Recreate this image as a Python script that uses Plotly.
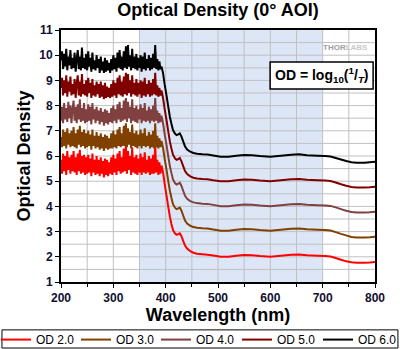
import plotly.graph_objects as go

wl_noise = [200, 202, 204, 206, 208, 210, 212, 214, 216, 218, 220, 222,
            224, 226, 228, 230, 232, 234, 236, 238, 240, 242, 244, 246,
            248, 250, 252, 254, 256, 258, 260, 262, 264, 266, 268, 270,
            272, 274, 276, 278, 280, 282, 284, 286, 288, 290, 292, 294,
            296, 298, 300, 302, 304, 306, 308, 310, 312, 314, 316, 318,
            320, 322, 324, 326, 328, 330, 332, 334, 336, 338, 340, 342,
            344, 346, 348, 350, 352, 354, 356, 358, 360, 362, 364, 366,
            368, 370, 372, 374, 376, 378, 380, 382, 384, 386, 388, 390]
wl_smooth = [392, 395, 398, 402, 405, 408, 411, 414, 418, 421, 424, 427, 430, 434, 437, 441,
             447, 453, 460, 470, 480, 491, 505, 520, 535, 550, 565, 580, 600, 620, 640, 655,
             670, 690, 705, 715, 725, 735, 745, 755, 765, 780, 790, 800]

od6_noise = [9.8, 10.15, 9.45, 10.05, 9.55, 10.25, 9.4, 9.95, 9.6, 10.2, 9.45, 9.9,
             9.5, 10.1, 9.35, 9.85, 10.2, 9.45, 9.95, 9.4, 10.3, 9.5, 9.9, 9.45,
             10.05, 9.4, 10.15, 9.55, 9.9, 9.35, 10.1, 9.45, 9.8, 9.4, 10.0, 9.5,
             9.85, 9.3, 9.95, 9.4, 9.75, 9.3, 9.9, 9.35, 9.8, 9.4, 9.7, 9.3,
             9.85, 9.4, 10.0, 9.45, 9.9, 9.35, 10.1, 9.5, 10.2, 9.45, 9.95, 9.4,
             10.15, 9.5, 10.35, 9.45, 10.4, 9.55, 10.0, 9.4, 10.25, 9.5, 9.95, 9.45,
             10.05, 9.4, 9.9, 9.5, 10.0, 9.35, 9.95, 9.45, 10.1, 9.4, 9.85, 9.5,
             10.0, 9.4, 9.9, 9.45, 10.05, 9.5, 10.4, 9.45, 9.85, 9.4, 9.75, 9.45]
od5_noise = [8.7, 9.1, 8.4, 9.0, 8.5, 9.2, 8.35, 8.95, 8.55, 9.15, 8.4, 8.85,
             8.45, 9.05, 8.3, 8.9, 9.2, 8.4, 8.95, 8.35, 9.25, 8.45, 8.85, 8.4,
             9.0, 8.35, 9.1, 8.5, 8.9, 8.3, 9.05, 8.4, 8.8, 8.35, 8.95, 8.45,
             8.85, 8.3, 8.95, 8.35, 8.8, 8.25, 8.9, 8.3, 8.75, 8.35, 8.7, 8.3,
             8.85, 8.35, 9.0, 8.4, 8.9, 8.3, 9.1, 8.45, 9.2, 8.4, 8.95, 8.35,
             9.15, 8.45, 9.3, 8.4, 9.25, 8.5, 9.0, 8.35, 9.2, 8.45, 8.9, 8.4,
             9.05, 8.35, 8.9, 8.45, 9.0, 8.3, 8.95, 8.4, 9.1, 8.35, 8.85, 8.45,
             9.0, 8.35, 8.9, 8.4, 9.05, 8.45, 9.3, 8.4, 8.8, 8.35, 8.7, 8.4]
od4_noise = [7.4, 7.95, 7.3, 8.1, 7.45, 7.9, 7.35, 8.15, 7.5, 8.0, 7.3, 7.85,
             8.2, 7.4, 7.95, 7.3, 8.05, 7.45, 8.25, 7.35, 7.9, 7.4, 8.1, 7.3,
             7.85, 7.35, 8.05, 7.4, 7.95, 7.25, 8.1, 7.45, 7.85, 7.3, 7.95, 7.4,
             7.8, 7.25, 7.9, 7.35, 7.75, 7.2, 7.85, 7.3, 7.8, 7.25, 7.7, 7.35,
             7.9, 7.3, 8.0, 7.4, 7.85, 7.3, 8.05, 7.45, 8.15, 7.35, 7.9, 7.4,
             8.2, 7.45, 8.3, 7.35, 8.15, 7.5, 7.95, 7.3, 8.25, 7.4, 7.9, 7.35,
             8.0, 7.3, 7.85, 7.45, 8.05, 7.3, 7.9, 7.4, 8.1, 7.35, 7.8, 7.4,
             7.95, 7.3, 7.85, 7.4, 8.0, 7.35, 8.3, 7.4, 7.8, 7.3, 7.7, 7.35]
od3_noise = [6.75, 6.35, 7.05, 6.4, 6.95, 6.3, 7.1, 6.45, 6.9, 6.35, 7.0, 6.4,
             7.15, 6.35, 6.9, 6.3, 7.05, 6.45, 7.2, 6.35, 6.95, 6.4, 7.05, 6.3,
             6.9, 6.35, 7.0, 6.4, 6.85, 6.25, 7.05, 6.4, 6.8, 6.3, 6.95, 6.35,
             6.8, 6.25, 6.9, 6.3, 6.75, 6.2, 6.85, 6.3, 6.8, 6.25, 6.7, 6.3,
             6.9, 6.3, 7.0, 6.35, 6.85, 6.3, 7.05, 6.4, 7.15, 6.35, 6.9, 6.4,
             7.2, 6.4, 7.3, 6.35, 7.1, 6.45, 6.95, 6.3, 7.25, 6.4, 6.9, 6.35,
             7.0, 6.3, 6.85, 6.4, 7.05, 6.3, 6.9, 6.4, 7.1, 6.35, 6.8, 6.4,
             6.95, 6.3, 6.85, 6.35, 7.0, 6.3, 7.3, 6.35, 6.8, 6.3, 6.7, 6.35]
od2_noise = [5.85, 5.3, 6.1, 5.4, 6.0, 5.25, 6.2, 5.45, 5.95, 5.3, 6.05, 5.4,
             6.2, 5.35, 5.95, 5.25, 6.1, 5.4, 6.25, 5.3, 6.0, 5.35, 6.05, 5.25,
             5.95, 5.3, 6.05, 5.35, 5.9, 5.2, 6.1, 5.35, 5.85, 5.25, 6.0, 5.3,
             5.85, 5.2, 5.95, 5.3, 5.8, 5.15, 5.9, 5.25, 5.85, 5.2, 5.75, 5.3,
             5.95, 5.25, 6.05, 5.35, 5.9, 5.25, 6.1, 5.4, 6.2, 5.3, 5.95, 5.35,
             6.3, 5.4, 6.45, 5.3, 6.2, 5.45, 6.0, 5.25, 6.35, 5.35, 5.95, 5.3,
             6.05, 5.25, 5.9, 5.35, 6.1, 5.25, 5.95, 5.35, 6.15, 5.3, 5.85, 5.35,
             6.0, 5.25, 5.9, 5.3, 6.05, 5.3, 6.45, 5.35, 5.85, 5.25, 5.75, 5.3]

od6_smooth = [9.55, 9.29, 8.85, 8.35, 7.95, 7.56, 7.28, 7.03, 6.88, 6.83, 6.86, 6.90, 6.78,
              6.55, 6.38, 6.26, 6.17, 6.12, 6.09, 6.07, 6.06, 6.02, 5.97, 5.97, 6.01, 6.04,
              6.03, 6.00, 5.97, 6.01, 6.05, 6.07, 6.03, 6.01, 6.00, 5.98, 5.92, 5.86, 5.80,
              5.75, 5.73, 5.73, 5.75, 5.77]
od5_smooth = [8.6, 8.3, 7.87, 7.38, 6.97, 6.58, 6.3, 6.05, 5.9, 5.85, 5.88, 5.92, 5.8, 5.57,
              5.4, 5.28, 5.19, 5.14, 5.11, 5.09, 5.08, 5.04, 5.0, 5.0, 5.04, 5.07, 5.06, 5.03,
              5.0, 5.04, 5.08, 5.09, 5.06, 5.04, 5.03, 5.01, 4.95, 4.88, 4.82, 4.77, 4.75,
              4.75, 4.76, 4.78]
od4_smooth = [7.6, 7.3, 6.88, 6.39, 5.98, 5.6, 5.32, 5.07, 4.92, 4.87, 4.9, 4.94, 4.82, 4.59,
              4.42, 4.3, 4.21, 4.16, 4.13, 4.11, 4.1, 4.06, 4.01, 4.01, 4.05, 4.08, 4.07, 4.04,
              4.01, 4.05, 4.09, 4.1, 4.07, 4.05, 4.04, 4.02, 3.96, 3.89, 3.83, 3.78, 3.76,
              3.76, 3.77, 3.79]
od3_smooth = [6.6, 6.32, 5.9, 5.41, 5.0, 4.62, 4.34, 4.09, 3.94, 3.89, 3.92, 3.95, 3.84, 3.61,
              3.44, 3.32, 3.23, 3.18, 3.15, 3.13, 3.12, 3.08, 3.03, 3.03, 3.07, 3.1, 3.09, 3.06,
              3.03, 3.07, 3.11, 3.12, 3.09, 3.07, 3.06, 3.04, 2.98, 2.91, 2.85, 2.79, 2.77,
              2.77, 2.78, 2.8]
od2_smooth = [5.62, 5.35, 4.9, 4.38, 3.98, 3.6, 3.3, 3.06, 2.92, 2.87, 2.9, 2.93, 2.83, 2.6,
              2.45, 2.33, 2.22, 2.16, 2.12, 2.1, 2.08, 2.05, 2.0, 2.0, 2.04, 2.07, 2.06, 2.03,
              2.0, 2.04, 2.08, 2.09, 2.06, 2.04, 2.03, 2.01, 1.95, 1.88, 1.82, 1.78, 1.76,
              1.76, 1.77, 1.79]

series_names = ["OD 2.0", "OD 3.0", "OD 4.0", "OD 5.0", "OD 6.0"]
series_colors = ["#FF0000", "#804000", "#804040", "#800000", "#000000"]
series_noise = [od2_noise, od3_noise, od4_noise, od5_noise, od6_noise]
series_smooth = [od2_smooth, od3_smooth, od4_smooth, od5_smooth, od6_smooth]

x_ticks = [200, 300, 400, 500, 600, 700, 800]
y_ticks = [1, 2, 3, 4, 5, 6, 7, 8, 9, 10, 11]

wl = wl_noise + wl_smooth
FONT = "Liberation Sans, Arial, sans-serif"
legend_ids = ["legend", "legend2", "legend3", "legend4", "legend5"]
legend_left_px = [-4, 76, 156, 237, 318]

fig = go.Figure()
for i, (name, color, n, s) in enumerate(zip(series_names, series_colors, series_noise, series_smooth)):
    fig.add_trace(go.Scatter(x=wl, y=n + s, mode="lines", name=name,
                             line=dict(color=color, width=2, simplify=False),
                             legend=legend_ids[i]))

# shaded AOI region
fig.add_shape(type="rect", xref="x", yref="paper", x0=350, x1=700, y0=0, y1=1,
              fillcolor="#DCE6F6", line=dict(width=0), layer="below")
# grid lines
for gx in [250, 300, 350, 400, 450, 500, 550, 600, 650, 700, 750]:
    fig.add_shape(type="line", xref="x", yref="paper", x0=gx, x1=gx, y0=0, y1=1,
                  line=dict(color="#C0C0C0", width=1), layer="below")
for i in range(3, 22):
    gy = i * 0.5
    fig.add_shape(type="line", xref="paper", yref="y", x0=0, x1=1, y0=gy, y1=gy,
                  line=dict(color="#C0C0C0", width=1), layer="below")
# formula box
fig.add_shape(type="rect", xref="paper", yref="paper", x0=0.666, x1=0.994, y0=0.766, y1=0.873,
              fillcolor="white", line=dict(color="black", width=1.5), layer="above")
fig.add_annotation(xref="paper", yref="paper", x=0.83, y=0.8195, showarrow=False,
                   xanchor="center", yanchor="middle",
                   text="<b>OD = log<sub>10</sub>(<sup>1</sup>/<sub><i>T</i></sub>)</b>",
                   font=dict(family=FONT, size=14, color="black"))
fig.add_annotation(xref="paper", yref="paper", x=0.985, y=0.955, xanchor="right", showarrow=False,
                   text="<b><span style='color:#A0A0A0'>THOR</span><span style='color:#C8C8C8'>LABS</span></b>",
                   font=dict(family=FONT, size=8))
# legend frame
fig.add_shape(type="rect", xref="paper", yref="paper", x0=-0.188, x1=1.073, y0=-0.262, y1=-0.190,
              fillcolor="rgba(0,0,0,0)", line=dict(color="black", width=1), layer="above")

layout_legends = {}
for i, lid in enumerate(legend_ids):
    layout_legends[lid] = dict(orientation="h", xref="paper", yref="container",
                               x=(legend_left_px[i] - 61) / 314, xanchor="left",
                               y=0.027, yanchor="middle", borderwidth=0,
                               bgcolor="rgba(0,0,0,0)",
                               font=dict(size=12, family=FONT, color="black"),
                               itemwidth=30)

fig.update_layout(
    width=400, height=349,
    margin=dict(l=61, r=25, t=30, b=67, autoexpand=False),
    paper_bgcolor="white", plot_bgcolor="white",
    font=dict(family=FONT, color="black"),
    title=dict(text="<b>Optical Density (0° AOI)</b>", x=0.545, xanchor="center",
               y=0.972, yanchor="middle", font=dict(size=18, family=FONT)),
    showlegend=True,
    **layout_legends,
)
fig.update_xaxes(range=[200, 800], tickvals=x_ticks, ticktext=[f"<b>{v}</b>" for v in x_ticks],
                 showgrid=False,
                 minor=dict(tickvals=[250, 350, 450, 550, 650, 750], ticks="outside", ticklen=3,
                            tickcolor="black", showgrid=False),
                 ticks="outside", ticklen=4, tickcolor="black", tickwidth=1,
                 showline=True, linecolor="black", linewidth=2, mirror=True,
                 tickfont=dict(size=12, family=FONT, color="#101030"),
                 title=dict(text="<b>Wavelength (nm)</b>", font=dict(size=18, family=FONT), standoff=0),
                 zeroline=False)
fig.update_yaxes(range=[1, 11], tickvals=y_ticks, ticktext=[f"<b>{v}</b>" for v in y_ticks],
                 showgrid=False,
                 ticks="outside", ticklen=4, tickcolor="black", tickwidth=1,
                 showline=True, linecolor="black", linewidth=2, mirror=True,
                 tickfont=dict(size=12, family=FONT, color="#101030"),
                 title=dict(text="<b>Optical Density</b>", font=dict(size=18, family=FONT), standoff=4),
                 zeroline=False)

fig.write_html("out.html")
